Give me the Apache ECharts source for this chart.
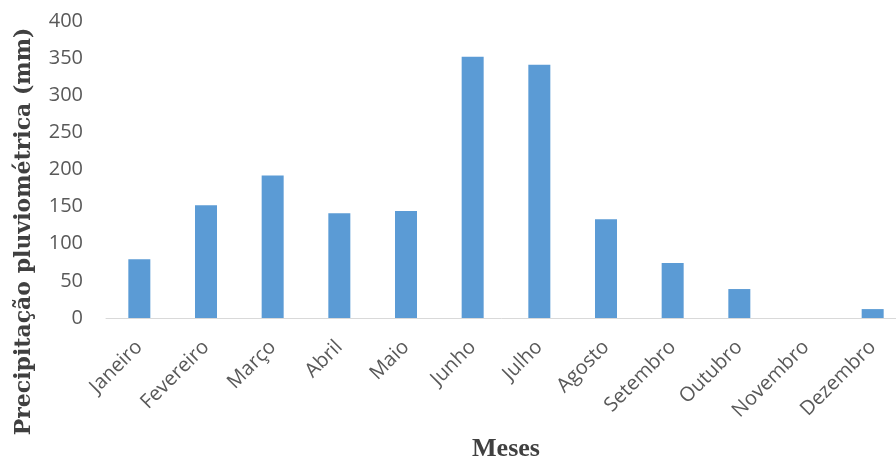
<!DOCTYPE html>
<html>
<head>
<meta charset="utf-8">
<script src="https://cdn.jsdelivr.net/npm/echarts@6/dist/echarts.min.js"></script>
<style>html,body{margin:0;padding:0;background:#fff;}#c{width:896px;height:461px;}</style>
</head>
<body>
<div id="c"></div>
<script>
const categories = ['Janeiro','Fevereiro','Março','Abril','Maio','Junho','Julho','Agosto','Setembro','Outubro','Novembro','Dezembro'];
const precipitation = [79, 152, 192, 141, 144, 352, 341, 133, 74, 39, 0, 12];
const yTicks = [0, 50, 100, 150, 200, 250, 300, 350, 400];

const chart = echarts.init(document.getElementById('c'));
chart.setOption({
  animation: false,
  backgroundColor: '#fff',
  grid: { left: 106, right: -10, top: 21, bottom: 143, outerBoundsMode: 'none', containLabel: false },
  xAxis: {
    type: 'category',
    data: categories,
    axisLine: { lineStyle: { color: '#d9d9d9', width: 1 } },
    axisTick: { show: false },
    axisLabel: { rotate: 45, interval: 0, margin: 26, color: '#595959', fontFamily: 'Open Sans', fontSize: 20 },
    name: 'Meses',
    nameLocation: 'middle',
    nameGap: 118,
    nameTextStyle: { fontFamily: 'Liberation Serif', fontWeight: 'bold', fontSize: 26, color: '#404040' }
  },
  yAxis: {
    type: 'value',
    min: yTicks[0],
    max: yTicks[yTicks.length - 1],
    interval: 50,
    splitLine: { show: false },
    axisLine: { show: false },
    axisTick: { show: false },
    axisLabel: { margin: 23, color: '#595959', fontFamily: 'Open Sans', fontSize: 20 },
    name: 'Precipitação pluviométrica (mm)',
    nameLocation: 'middle',
    nameGap: 71,
    nameTextStyle: { fontFamily: 'DejaVu Serif', fontWeight: 'bold', fontSize: 22, color: '#404040', padding: [0, 124, 0, 0] }
  },
  series: [{
    type: 'bar',
    data: precipitation,
    barWidth: '33%',
    itemStyle: { color: '#5b9bd5' }
  }]
});
</script>
</body>
</html>
